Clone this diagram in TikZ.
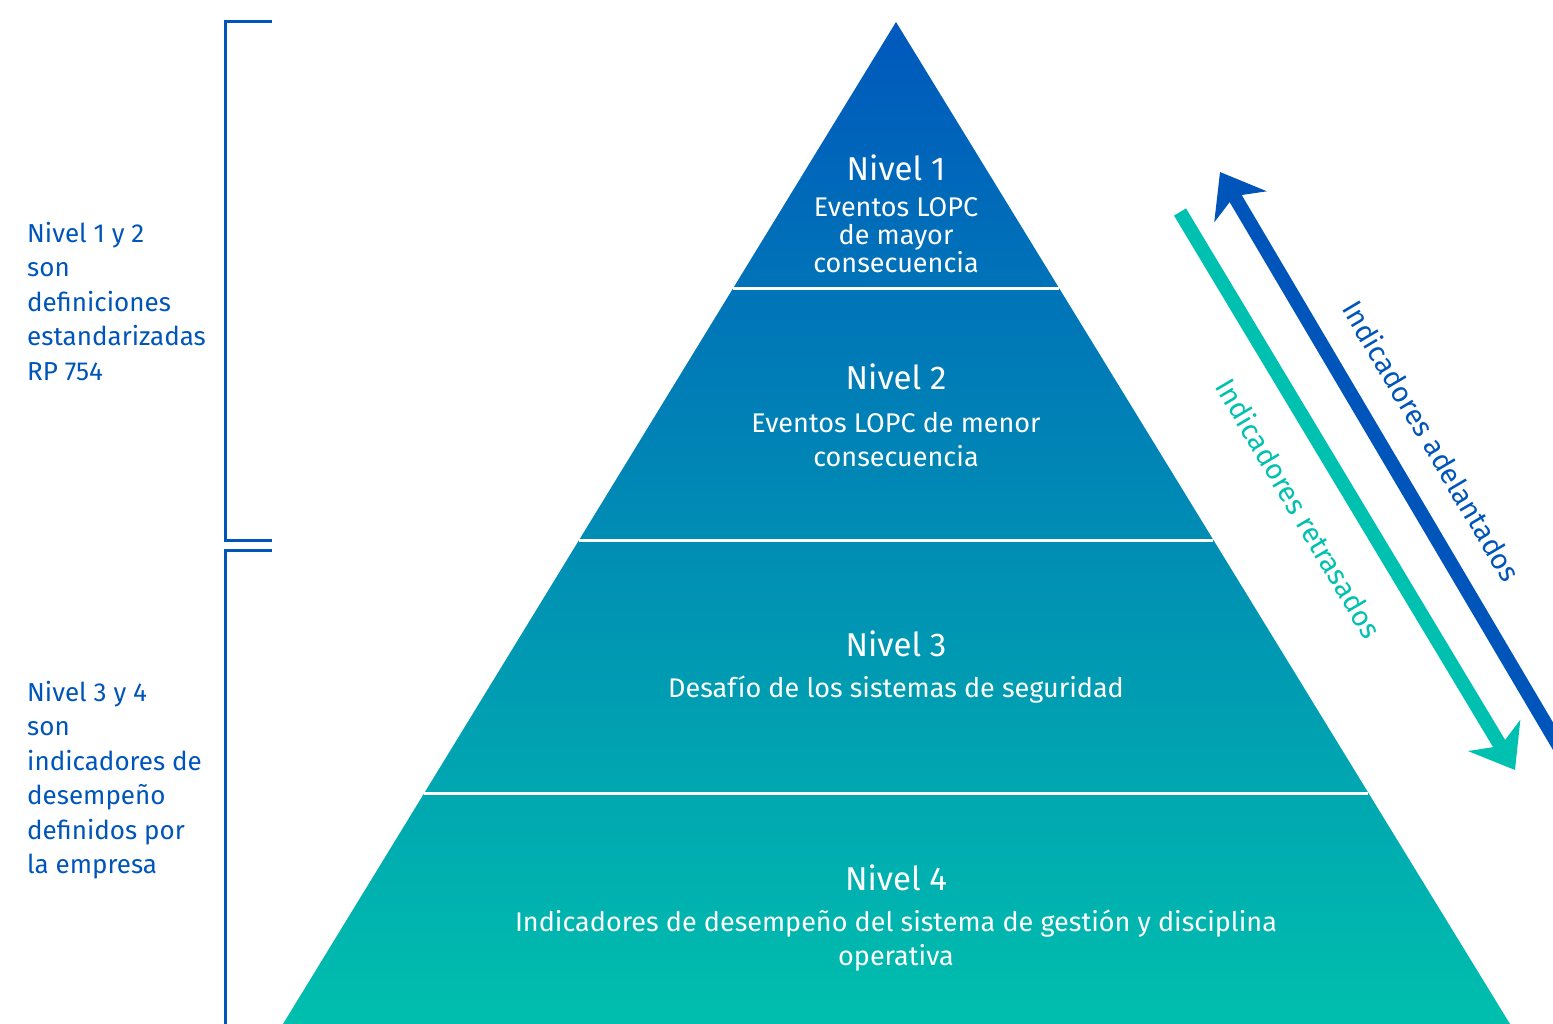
\documentclass[tikz,border=0pt]{standalone}
\usepackage{fontspec}
\setmainfont{Fira Sans}
\usetikzlibrary{arrows.meta,calc}
\definecolor{pyrtop}{HTML}{0058BC}
\definecolor{pyrmid}{HTML}{008DB5}
\definecolor{pyrbot}{HTML}{00BFAD}
\definecolor{darkblue}{HTML}{0055BB}
\definecolor{tealarrow}{HTML}{00C1AF}
\tikzset{
  level title/.style={text=white, inner sep=0pt, font=\fontsize{33}{38}\selectfont},
  level text/.style={text=white, inner sep=0pt, align=center, font=\fontsize{27}{34}\selectfont},
  side text/.style={text=darkblue, inner sep=0pt, align=left, anchor=north west, font=\fontsize{26}{34.5}\selectfont},
  bracket/.style={darkblue, line width=3pt},
  band line/.style={white, line width=3pt},
  arrow text/.style={inner sep=0pt, rotate=-59.4, font=\fontsize{28.5}{30}\selectfont}
}
\begin{document}
\begin{tikzpicture}[x=1pt, y=-1pt]
\useasboundingbox (0,0) rectangle (1553,1024);
\clip (0,0) rectangle (1553,1024);
% pyramid
\coordinate (apex) at (896,22);
\coordinate (baseL) at (283,1024);
\coordinate (baseR) at (1510,1024);
\shade[top color=pyrtop, middle color=pyrmid, bottom color=pyrbot] (apex) -- (baseL) -- (baseR) -- cycle;
\foreach \t in {0.2655, 0.517, 0.7695} {
  \draw[band line] ($(apex)!\t!(baseL)$) -- ($(apex)!\t!(baseR)$);
}
% levels
\node[level title] (nivel1) at (896,168) {Nivel 1};
\node[level text, font=\fontsize{27}{28}\selectfont] (texto1) at (896,235) {Eventos LOPC\\de mayor\\consecuencia};
\node[level title] (nivel2) at (896,377) {Nivel 2};
\node[level text] (texto2) at (896,440) {Eventos LOPC de menor\\consecuencia};
\node[level title] (nivel3) at (896,644) {Nivel 3};
\node[level text] (texto3) at (896,690) {Desafío de los sistemas de seguridad};
\node[level title] (nivel4) at (896,878) {Nivel 4};
\node[level text] (texto4) at (896,941) {Indicadores de desempeño del sistema de gestión y disciplina\\operativa};
% brackets
\draw[bracket] (272,22) -- (225,22) -- (225,540) -- (272,540);
\draw[bracket] (272,550) -- (225,550) -- (225,1030);
\node[side text] (lado12) at (27,222) {Nivel 1 y 2\\son\\definiciones\\estandarizadas\\RP 754};
\node[side text] (lado34) at (27,681) {Nivel 3 y 4\\son\\indicadores de\\desempeño\\definidos por\\la empresa};
% arrows
\coordinate (adelIni) at (1570,765);
\coordinate (adelFin) at (1220,172);
\coordinate (retrIni) at (1180,212);
\coordinate (retrFin) at (1515,770);
\draw[darkblue, line width=14pt, -{Stealth[length=40pt, width=60pt, inset=12pt]}] (adelIni) -- (adelFin);
\draw[tealarrow, line width=14pt, -{Stealth[length=40pt, width=60pt, inset=12pt]}] (retrIni) -- (retrFin);
\node[arrow text, text=darkblue] (adelantados) at (1432,441) {Indicadores adelantados};
\node[arrow text, text=tealarrow] (retrasados) at (1299,508) {Indicadores retrasados};
\end{tikzpicture}
\end{document}
